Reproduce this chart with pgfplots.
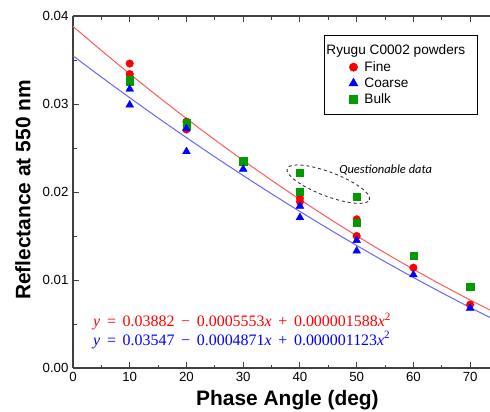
\documentclass[border=0pt]{standalone}
\usepackage{fontspec}
\setmainfont{Liberation Sans}
\newfontfamily\eqfont{Liberation Serif}
\newfontfamily\calib{Carlito}
\usepackage{pgfplots}
\pgfplotsset{compat=1.18}
\usepackage{pgfplotstable}

\definecolor{mred}{RGB}{255,0,0}
\definecolor{mblue}{RGB}{0,0,255}
\definecolor{mgreen}{RGB}{0,155,0}
\definecolor{lred}{RGB}{255,90,90}
\definecolor{lblue}{RGB}{100,100,255}
\definecolor{axgray}{RGB}{64,64,64}

\pgfplotstableread{
x y
10 0.0346
10 0.0334
20 0.0280
20 0.0271
30 0.0234
40 0.0193
40 0.0189
50 0.0169
50 0.0150
60 0.0114
70 0.0072
}\fine

\pgfplotstableread{
x y
10 0.0317
10 0.0299
20 0.0272
20 0.0246
30 0.0226
40 0.0184
40 0.0171
50 0.0145
50 0.0133
60 0.0106
70 0.0068
}\coarse

\pgfplotstableread{
x y
10 0.0328
10 0.0325
20 0.0279
20 0.0275
30 0.0235
40 0.0222
40 0.0200
50 0.0195
50 0.0165
60 0.0128
70 0.0092
}\bulk

\newcommand{\op}[1]{\hspace{0.42em}#1\hspace{0.42em}}

\begin{document}
\begin{tikzpicture}
\begin{axis}[
  name=ax,
  scale only axis,
  width=417bp, height=352bp,
  xmin=0, xmax=73.5, ymin=0, ymax=0.04,
  axis x line*=box, axis y line*=left,
  axis line style={axgray, line width=1.4bp},
  xtick={0,10,...,70}, ytick={0,0.01,...,0.04},
  minor x tick num=1, minor y tick num=1,
  major tick length=6bp, minor tick length=3.5bp,
  tick style={axgray, line width=1bp},
  tick align=inside,
  scaled y ticks=false,
  yticklabel style={/pgf/number format/fixed, /pgf/number format/fixed zerofill, /pgf/number format/precision=2, xshift=-1bp},
  /pgf/number format/assume math mode=true,
  ticklabel style={font=\fontsize{13.3}{15}\selectfont},
  xticklabel style={yshift=-1bp},
  xlabel={\textbf{Phase Angle (deg)}},
  ylabel={\textbf{Reflectance at 550 nm}},
  every axis x label/.style={at={(axis cs:37.8,0)}, anchor=center, yshift=-32bp, font=\fontsize{21}{24}\selectfont},
  every axis y label/.style={at={(rel axis cs:0,0.5)}, anchor=center, rotate=90, yshift=50bp, xshift=2bp, font=\fontsize{21}{24}\selectfont},
  legend style={at={(rel axis cs:0.971,0.946)}, anchor=north east, draw=black, line width=1.2bp,
    font=\fontsize{13.7}{16}\selectfont, inner xsep=10bp, inner ysep=7.5bp, row sep=1bp,
    cells={anchor=west}},
  legend cell align=left,
]
% legend entries
\addlegendimage{empty legend}
\addlegendentry{\hspace{-38bp}Ryugu C0002 powders}
\addlegendimage{legend image code/.code={\path[draw=none] (0bp,0bp) -- (28bp,0bp); \draw[draw=none, mark=*, mark size=3.8bp, mred] plot coordinates {(19bp,0bp)};}}
\addlegendentry{Fine}
\addlegendimage{legend image code/.code={\path[draw=none] (0bp,0bp) -- (28bp,0bp); \draw[draw=none, mark=triangle*, mark size=4.5bp, mblue] plot coordinates {(19bp,0bp)};}}
\addlegendentry{Coarse}
\addlegendimage{legend image code/.code={\path[draw=none] (0bp,0bp) -- (28bp,0bp); \draw[draw=none, mark=square*, mark size=3.6bp, mgreen] plot coordinates {(19bp,0bp)};}}
\addlegendentry{Bulk}

% fitted curves
\addplot[lred, line width=1bp, smooth, forget plot] coordinates {
(0,0.03882) (5,0.0360832) (10,0.0334258) (15,0.0308478) (20,0.0283492)
(25,0.02593) (30,0.0235902) (35,0.0213298) (40,0.0191488) (45,0.0170472)
(50,0.015025) (55,0.0130822) (60,0.0112188) (65,0.0094348) (70,0.0077302) (73.5,0.006584)};
\addplot[lblue, line width=1bp, smooth, forget plot] coordinates {
(0,0.03547) (5,0.0330626) (10,0.0307113) (15,0.0284162) (20,0.0261772)
(25,0.0239944) (30,0.0218677) (35,0.0197972) (40,0.0177828) (45,0.0158246)
(50,0.0139225) (55,0.0120766) (60,0.0102868) (65,0.0085532) (70,0.0068757) (73.5,0.0057349)};

% data points
\addplot[only marks, mark=*, mark size=3.8bp, color=mred, forget plot] table[x=x,y=y] {\fine};
\addplot[only marks, mark=square*, mark size=3.6bp, color=mgreen, forget plot] table[x=x,y=y] {\bulk};
\addplot[only marks, mark=triangle*, mark size=4.5bp, color=mblue, forget plot] table[x=x,y=y] {\coarse};

\coordinate (qc) at (axis cs:45.0,0.02089);
\node[anchor=west, font=\calib\itshape\fontsize{12.5}{14}\selectfont, inner sep=0pt] at (axis cs:46.9,0.0225) {Questionable data};
\node[anchor=base west, inner sep=0pt, text=mred, font=\eqfont\fontsize{16}{18}\selectfont] at (axis cs:3.53,0.00466)
  {\textit{y}\op{=}0.03882\op{−}0.0005553\textit{x}\op{+}0.000001588\textit{x}\textsuperscript{2}};
\node[anchor=base west, inner sep=0pt, text=mblue, font=\eqfont\fontsize{16}{18}\selectfont] at (axis cs:3.53,0.00261)
  {\textit{y}\op{=}0.03547\op{−}0.0004871\textit{x}\op{+}0.000001123\textit{x}\textsuperscript{2}};
\end{axis}
\draw[dashed, black!80, line width=0.9bp, rotate around={-20.8:(qc)}] (qc) ellipse [x radius=44bp, y radius=12bp];
\pgfresetboundingbox
\path (ax.south west) ++(-73bp,-44bp) rectangle ++(490bp,412bp);
\end{tikzpicture}
\end{document}
